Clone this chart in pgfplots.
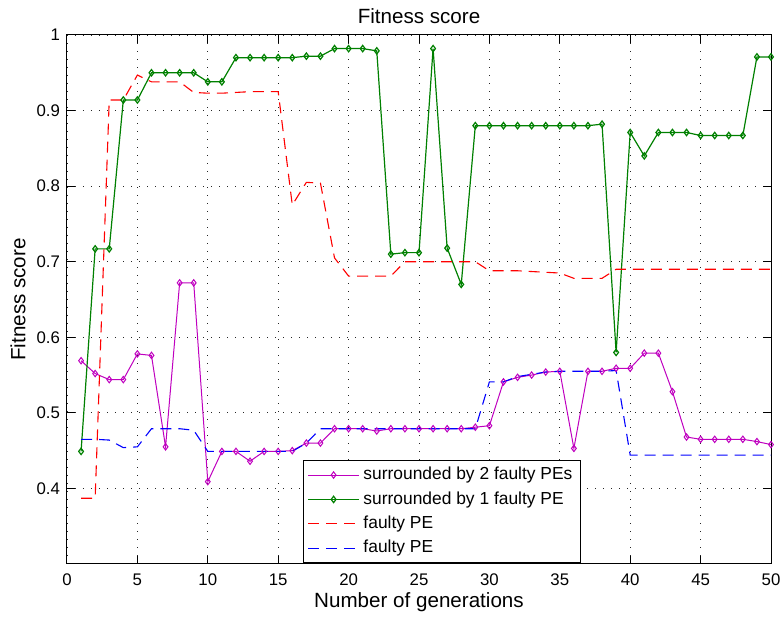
\documentclass[border=0pt]{standalone}
\usepackage{fontspec}
\setmainfont{Liberation Sans}
\usepackage{pgfplots}
\pgfplotsset{compat=1.18}
\definecolor{mmag}{RGB}{191,0,191}
\definecolor{mgreen}{RGB}{0,128,0}
\begin{document}
\begin{tikzpicture}
\useasboundingbox (-33.5pt,-27.5pt) rectangle (356.5pt,282pt);
\begin{axis}[
 at={(0,0)}, anchor=south west,
 scale only axis, width=352pt, height=264.5pt,
 xmin=0, xmax=50, ymin=0.3, ymax=1,
 xtick={0,5,...,50}, ytick={0.4,0.5,0.6,0.7,0.8,0.9,1},
 grid=major, grid style={black!85, dash pattern=on 0.5pt off 3.5pt, line width=0.45pt},
 axis line style={line width=0.5pt},
 major tick length=4pt, tick style={black, line width=0.5pt},
 tick label style={font=\fontsize{8.4}{10}\selectfont},
 /pgf/number format/assume math mode=true,
 yticklabel style={/pgf/number format/fixed, /pgf/number format/precision=1},
 xticklabel style={anchor=base, yshift=-11pt},
 title={Fitness score},
 title style={font=\fontsize{10.3}{12}\selectfont, at={(axis description cs:0.5,1)}, anchor=base, yshift=-0.5pt},
 xlabel={Number of generations},
 xlabel style={font=\fontsize{10.3}{12}\selectfont, at={(axis description cs:0.5,0)}, anchor=base, yshift=-22pt},
 ylabel={Fitness score},
 ylabel style={font=\fontsize{10.3}{12}\selectfont, at={(axis description cs:-0.0696,0.5)}, anchor=center},
 legend image code/.code={\draw[mark repeat=2,mark phase=2,#1] plot coordinates {(0pt,0pt) (12.75pt,0pt) (25.5pt,0pt)};},
 legend cell align=left,
 legend style={at={(0.3352,0.002)}, anchor=south west, draw=black, line width=0.5pt, fill=white,
   font=\fontsize{8.7}{10}\selectfont, inner xsep=2pt, inner ysep=1pt,
   nodes={inner sep=1.9pt, text height=6.5pt, text depth=1.9pt}, row sep=0pt},
]
\addplot[mmag, line width=0.5pt, mark=diamond, mark size=1.6pt, mark options={solid}] coordinates {
(1,0.569)(2,0.552)(3,0.544)(4,0.544)(5,0.578)(6,0.576)(7,0.455)(8,0.672)(9,0.672)(10,0.409)
(11,0.449)(12,0.449)(13,0.436)(14,0.449)(15,0.449)(16,0.450)(17,0.460)(18,0.460)(19,0.479)(20,0.479)
(21,0.479)(22,0.476)(23,0.479)(24,0.479)(25,0.479)(26,0.479)(27,0.479)(28,0.479)(29,0.481)(30,0.483)
(31,0.541)(32,0.547)(33,0.550)(34,0.554)(35,0.555)(36,0.453)(37,0.555)(38,0.555)(39,0.559)(40,0.559)
(41,0.579)(42,0.579)(43,0.528)(44,0.468)(45,0.465)(46,0.465)(47,0.465)(48,0.465)(49,0.462)(50,0.458)};
\addlegendentry{surrounded by 2 faulty PEs}
\addplot[mgreen, line width=0.6pt, mark=diamond, mark size=1.6pt, mark options={solid}] coordinates {
(1,0.449)(2,0.717)(3,0.717)(4,0.914)(5,0.914)(6,0.950)(7,0.950)(8,0.950)(9,0.950)(10,0.938)
(11,0.938)(12,0.970)(13,0.970)(14,0.970)(15,0.970)(16,0.970)(17,0.972)(18,0.972)(19,0.982)(20,0.982)
(21,0.982)(22,0.979)(23,0.710)(24,0.712)(25,0.712)(26,0.982)(27,0.718)(28,0.670)(29,0.880)(30,0.880)
(31,0.880)(32,0.880)(33,0.880)(34,0.880)(35,0.880)(36,0.880)(37,0.880)(38,0.882)(39,0.580)(40,0.871)
(41,0.840)(42,0.871)(43,0.871)(44,0.871)(45,0.867)(46,0.867)(47,0.867)(48,0.867)(49,0.971)(50,0.971)};
\addlegendentry{surrounded by 1 faulty PE}
\addplot[red, line width=0.55pt, dash pattern=on 5.5pt off 3.5pt] coordinates {
(1,0.387)(2,0.387)(3,0.914)(4,0.914)(5,0.947)(6,0.938)(7,0.938)(8,0.938)(9,0.924)(10,0.923)
(11,0.923)(12,0.924)(13,0.925)(14,0.925)(15,0.925)(16,0.775)(17,0.805)(18,0.804)(19,0.705)(20,0.681)
(21,0.681)(22,0.681)(23,0.681)(24,0.700)(25,0.700)(26,0.700)(27,0.700)(28,0.700)(29,0.700)(30,0.688)
(31,0.688)(32,0.688)(33,0.687)(34,0.686)(35,0.685)(36,0.678)(37,0.678)(38,0.678)(39,0.690)(40,0.690)
(41,0.690)(42,0.690)(43,0.690)(44,0.690)(45,0.690)(46,0.690)(47,0.690)(48,0.690)(49,0.690)(50,0.690)};
\addlegendentry{faulty PE}
\addplot[blue, line width=0.55pt, dash pattern=on 5.5pt off 3.5pt] coordinates {
(1,0.465)(2,0.465)(3,0.464)(4,0.454)(5,0.455)(6,0.479)(7,0.479)(8,0.479)(9,0.477)(10,0.449)
(11,0.449)(12,0.449)(13,0.449)(14,0.449)(15,0.449)(16,0.449)(17,0.460)(18,0.479)(19,0.479)(20,0.479)
(21,0.479)(22,0.479)(23,0.479)(24,0.479)(25,0.479)(26,0.479)(27,0.479)(28,0.479)(29,0.479)(30,0.541)
(31,0.541)(32,0.548)(33,0.551)(34,0.554)(35,0.555)(36,0.555)(37,0.555)(38,0.555)(39,0.556)(40,0.444)
(41,0.444)(42,0.444)(43,0.444)(44,0.444)(45,0.444)(46,0.444)(47,0.444)(48,0.444)(49,0.444)(50,0.444)};
\addlegendentry{faulty PE}
\end{axis}
\end{tikzpicture}
\end{document}
